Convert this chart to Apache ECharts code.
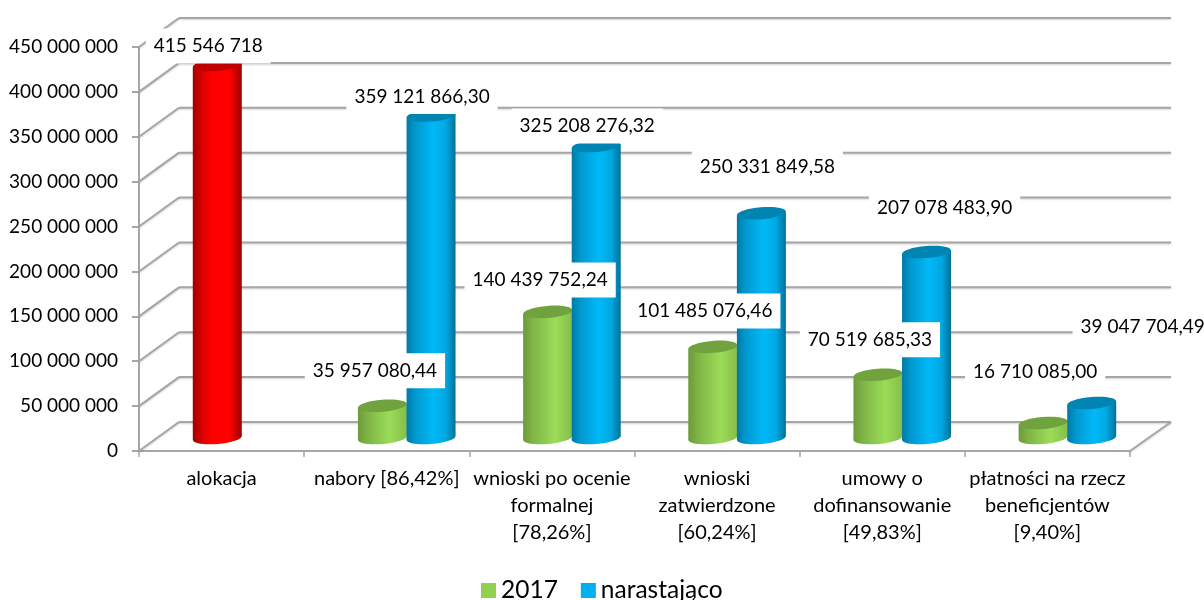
<!DOCTYPE html>
<html><head><meta charset="utf-8">
<style>html,body{margin:0;padding:0;background:#fff}#c{width:1204px;height:600px}</style>
<script src="https://cdn.jsdelivr.net/npm/echarts@6/dist/echarts.min.js"></script>
</head><body><div id="c"></div>
<script>
const categories = ['alokacja','nabory [86,42%]','wnioski po ocenie\nformalnej\n[78,26%]','wnioski\nzatwierdzone\n[60,24%]','umowy o\ndofinansowanie\n[49,83%]','płatności na rzecz\nbeneficjentów\n[9,40%]'];
const values2017 = [415546718, 35957080.44, 140439752.24, 101485076.46, 70519685.33, 16710085.00];
const valuesCumulative = [null, 359121866.30, 325208276.32, 250331849.58, 207078483.90, 39047704.49];
const labels2017 = ['415 546 718','35 957 080,44','140 439 752,24','101 485 076,46','70 519 685,33','16 710 085,00'];
const labelsCumulative = [null,'359 121 866,30','325 208 276,32','250 331 849,58','207 078 483,90','39 047 704,49'];
const yTicks = [0,50000000,100000000,150000000,200000000,250000000,300000000,350000000,400000000,450000000];

const FONT = 'Lato, Carlito, sans-serif';
const depthX = 40, depthY = 29, midX = 20, midY = 13, slot = 24.3, rx = 24.5, ry = 6, tilt = 0.08;
const GRAY = '#a6a6a6';
const labelShift2017 = [[-9,-19],[-7.5,-35],[-7.5,-32],[-8,-36],[-8,-35],[-8,-51]];
const labelShiftCumulative = [null,[-9,-19],[-9,-20],[6,-46],[18,-44],[51,-76]];

function grad(stops){ return new echarts.graphic.LinearGradient(0,0,1,0,stops.map(s=>({offset:s[0],color:s[1]}))); }
const paints = {
  green:{side:[[0,'#6c9a39'],[0.2,'#80b447'],[0.65,'#9bdc58'],[1,'#86bd4b']],top:'#70a33e'},
  blue:{side:[[0,'#0079a6'],[0.18,'#0099cf'],[0.55,'#00b9f8'],[0.8,'#00a8e2'],[1,'#00719a']],top:'#0085b3'},
  red:{side:[[0,'#a00000'],[0.22,'#e00000'],[0.4,'#ff0000'],[0.75,'#ff0000'],[1,'#9a0000']],top:'#c00000'}
};

function frameItem(params, api){
  const p = api.coord([0, api.value(1)]);
  const x0 = api.coord([0,0])[0] - (api.size([1,0])[0])/2;
  const xEnd = x0 + api.size([1,0])[0]*categories.length;
  const line = (a,b,c,d)=>({type:'line',shape:{x1:a,y1:b,x2:c,y2:d},
    style:{stroke:GRAY,lineWidth:2,shadowColor:'rgba(0,0,0,0.18)',shadowBlur:2,shadowOffsetY:1}});
  const children = [
    line(x0,p[1],x0+depthX,p[1]-depthY),
    line(x0+depthX,p[1]-depthY,xEnd+depthX+1,p[1]-depthY)
  ];
  if (params.dataIndex===0) children.push(line(xEnd,p[1],xEnd+depthX+1,p[1]-depthY));
  return {type:'group',children};
}
function cylinderItem(dir, paintOf){
  return function(params, api){
    const v = api.value(1);
    if (v==null || isNaN(v)) return null;
    const paint = paintOf(params.dataIndex);
    const c = api.coord([api.value(0), 0]);
    const t = api.coord([api.value(0), v]);
    const cx = c[0]+midX+dir*slot, yb = c[1]-midY, yt = t[1]-midY;
    const side = grad(paint.side);
    const d = rx*Math.tan(tilt);
    const ell = (cy,fill)=>({type:'ellipse',shape:{cx,cy,rx,ry},originX:cx,originY:cy,rotation:tilt,style:{fill}});
    return {type:'group',children:[
      ell(yb,side),
      {type:'polygon',shape:{points:[[cx-rx,yt+d],[cx+rx,yt-d],[cx+rx,yb-d],[cx-rx,yb+d]]},style:{fill:side}},
      ell(yt,paint.top)
    ]};
  };
}
function labelItem(dir, shifts, texts){
  return function(params, api){
    const i = params.dataIndex, v = api.value(1);
    if (v==null || isNaN(v) || !texts[i]) return null;
    const c = api.coord([api.value(0), 0]), t = api.coord([api.value(0), v]);
    return {type:'text',x:c[0]+midX+dir*slot+shifts[i][0],y:t[1]-midY+shifts[i][1],
      style:{text:texts[i],fill:'#000',font:'19px '+FONT,align:'center',verticalAlign:'middle',
        backgroundColor:'#fff',padding:[8,8]}};
  };
}
const pairs = a => a.map((v,i)=>[i,v]);
const chart = echarts.init(document.getElementById('c'),null,{renderer:'canvas'});
chart.setOption({
  animation:false,
  backgroundColor:'#fff',
  textStyle:{fontFamily:FONT},
  grid:{left:139,right:74,top:47,bottom:149,containLabel:false},
  legend:{left:481,top:578,padding:0,itemWidth:15,itemHeight:15,itemGap:23,icon:'rect',
    data:['2017','narastająco'],textStyle:{fontSize:24.5,color:'#000',fontFamily:FONT}},
  xAxis:{type:'category',data:categories,
    axisLine:{lineStyle:{color:GRAY,width:2}},
    axisTick:{show:true,alignWithLabel:false,length:6,lineStyle:{color:GRAY,width:1.5}},
    axisLabel:{interval:0,color:'#000',fontSize:20,lineHeight:27,margin:14,fontFamily:FONT}},
  yAxis:{type:'value',min:0,max:450000000,interval:50000000,
    axisLine:{show:true,lineStyle:{color:GRAY,width:2}},
    axisTick:{show:true,length:7,lineStyle:{color:GRAY,width:2}},
    splitLine:{show:false},
    axisLabel:{color:'#000',fontSize:19,margin:21,padding:[7,0,0,0],fontFamily:FONT,
      formatter:v=>String(v).replace(/\B(?=(\d{3})+$)/g,' ')}},
  series:[
    {type:'custom',name:'frame',z:1,silent:true,renderItem:frameItem,data:yTicks.map(v=>[0,v]),encode:{x:0,y:1}},
    {type:'custom',name:'2017',z:3,itemStyle:{color:'#92D050'},encode:{x:0,y:1},data:pairs(values2017),
      renderItem:cylinderItem(-1,i=>i===0?paints.red:paints.green)},
    {type:'custom',name:'narastająco',z:4,itemStyle:{color:'#00B0F0'},encode:{x:0,y:1},data:pairs(valuesCumulative),
      renderItem:cylinderItem(1,()=>paints.blue)},
    {type:'custom',name:'etykiety 2017',z:6,encode:{x:0,y:1},data:pairs(values2017),
      renderItem:labelItem(-1,labelShift2017,labels2017)},
    {type:'custom',name:'etykiety narastająco',z:6,encode:{x:0,y:1},data:pairs(valuesCumulative),
      renderItem:labelItem(1,labelShiftCumulative,labelsCumulative)}
  ]
});
</script></body></html>
